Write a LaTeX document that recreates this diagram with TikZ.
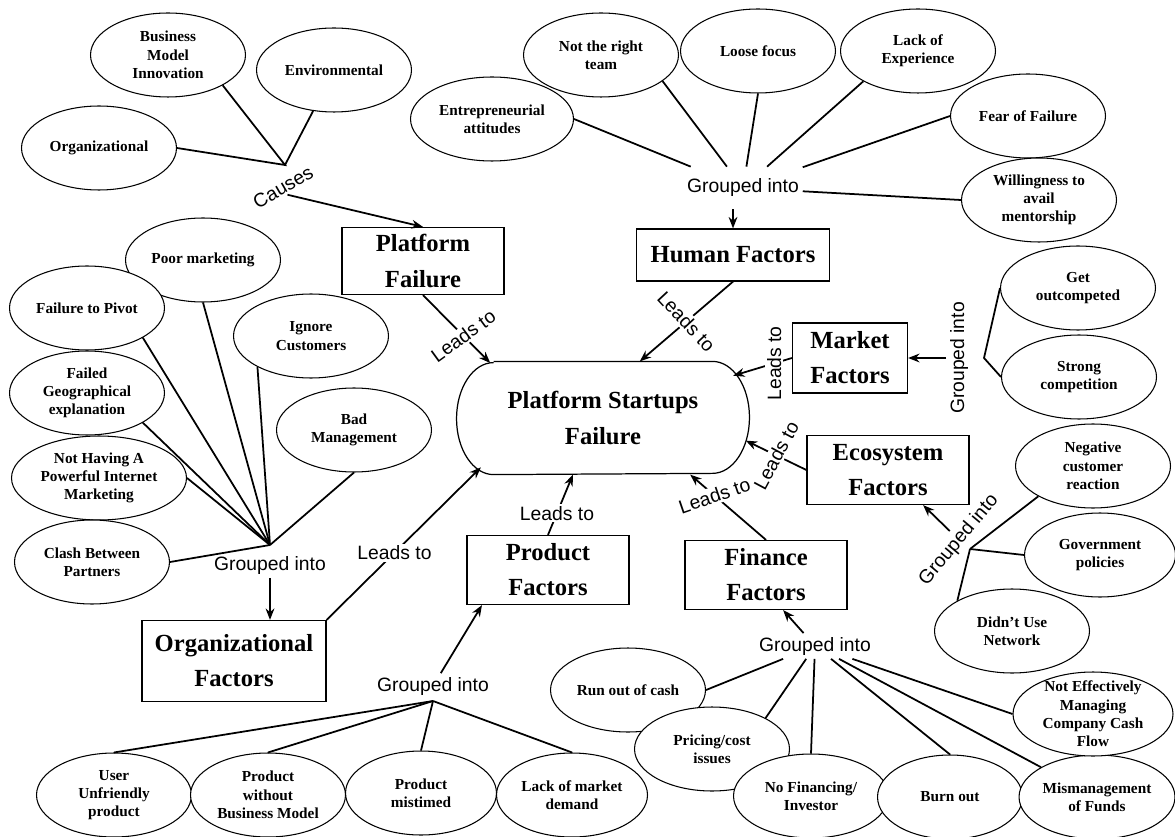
\documentclass[tikz,border=0pt]{standalone}
\usepackage{fontspec}
\setmainfont{Liberation Serif}
\setsansfont{Liberation Sans}
\usetikzlibrary{arrows.meta,shapes.geometric,shapes.misc}

\begin{document}
\begin{tikzpicture}[>={Stealth[length=6.5pt,width=5pt]}, x=0.02cm, y=-0.02cm,
    cause/.style={draw, ellipse, fill=white, line width=0.6pt, inner sep=0pt, align=center,
      minimum width=3.1cm, minimum height=1.68cm,
      font=\bfseries\fontsize{8.7}{10.4}\selectfont},
    factor/.style={draw, rectangle, line width=0.7pt, inner sep=0pt, align=center,
      font=\bfseries\fontsize{14}{20}\selectfont},
    grp/.style={font=\sffamily\fontsize{11}{13}\selectfont, inner sep=2pt},
    lbl/.style={grp, fill=white, inner sep=1pt},
    link/.style={line width=1pt},
    lead/.style={link, ->}]
  \useasboundingbox (0,0) rectangle (1175,837);
  \clip (0,0) rectangle (1175,837);

  % what causes platform failure
  \node[cause] (bmi) at (168,55) {Business\\Model\\Innovation};
  \node[cause] (env) at (334,70) {Environmental};
  \node[cause] (orgn) at (99,148) {Organizational};
  \coordinate (cj) at (285,165);
  \draw[link] (orgn.east) -- (cj) -- (bmi.-29);
  \draw[link] (cj) -- (env.-117);
  \node[lbl, rotate=30] (cs) at (283,187) {Causes};
  \node[factor, minimum width=3.24cm, minimum height=1.34cm] (pf) at (423,261) {Platform\\Failure};
  \draw[lead] (cs.south) -- (pf.north);

  % the centre
  \node[factor, draw=none, rounded rectangle, rounded rectangle arc length=135,
    minimum width=5.86cm, minimum height=2.24cm] (psf) at (603,418) {Platform Startups\\Failure};
  \draw[line width=0.7pt] ([xshift=-2.19cm]psf.north) -- ([xshift=2.19cm]psf.north)
    arc[start angle=90, end angle=-90, x radius=0.74cm, y radius=1.12cm]
    -- ([xshift=-2.19cm]psf.south)
    arc[start angle=-90, end angle=-270, x radius=0.74cm, y radius=1.12cm];
  \draw[lead] (pf.south) -- node[lbl, rotate=36, pos=0.6] {Leads to} (psf.154);

  % human factors
  \node[cause, minimum width=3.26cm] (ent) at (492,119) {Entrepreneurial\\attitudes};
  \node[cause] (nrt) at (601,55) {Not the right\\team};
  \node[cause] (lf) at (758,51) {Loose focus};
  \node[cause] (loe) at (918,51) {Lack of\\Experience};
  \node[cause] (fof) at (1028,116) {Fear of Failure};
  \node[cause] (wam) at (1039,200) {Willingness to\\avail\\mentorship};
  \node[grp, inner ysep=0.24cm] (hgi) at (743,188) {Grouped into};
  \foreach \e/\a in {ent/east, nrt/-23, lf/south, loe/-151, fof/west, wam/west}
    \draw[link] (hgi) -- (\e.\a);
  \node[factor, minimum width=3.86cm, minimum height=1.04cm] (hf) at (733,255) {Human Factors};
  \draw[lead] (hf.north |- hgi.south) -- (hf.north);
  \draw[lead] (hf.south) -- node[lbl, rotate=-47] {Leads to} (psf.57);

  % market factors
  \node[factor, minimum width=2.3cm, minimum height=1.4cm] (mf) at (850,358) {Market\\Factors};
  \draw[lead] (mf.west) -- node[lbl, rotate=90, pos=0.3] {Leads to} (psf.18);
  \node[grp, rotate=90] (mgi) at (959,358) {Grouped into};
  \draw[lead] (mgi) -- (mf);
  \node[cause] (goc) at (1078,288) {Get\\outcompeted};
  \node[cause] (sc) at (1079,377) {Strong\\competition};
  \coordinate (mj) at (984,358);
  \draw[link] (goc.west) -- (mj) -- (sc.west);

  % ecosystem factors
  \node[factor, minimum width=3.24cm, minimum height=1.38cm] (eco) at (888,470) {Ecosystem\\Factors};
  \draw[lead] (eco.west) -- node[lbl, rotate=62] {Leads to} (psf.-9);
  \node[grp, rotate=50] (egi) at (959,540) {Grouped into};
  \draw[lead] (egi) -- (eco.-45);
  \node[cause] (ncr) at (1093,466) {Negative\\customer\\reaction};
  \node[cause, minimum width=3.02cm] (gov) at (1100,555) {Government\\policies};
  \node[cause] (dun) at (1012,631) {Didn't Use\\Network};
  \coordinate (ej) at (970,549);
  \foreach \e/\a in {ncr/-151, gov/west, dun/151}
    \draw[link] (ej) -- (\e.\a);

  % finance factors
  \node[factor, minimum width=3.24cm, minimum height=1.38cm] (fin) at (766,575) {Finance\\Factors};
  \draw[lead] (fin.north) -- node[lbl, rotate=19, pos=0.68] {Leads to} (psf.-33);
  \node[grp] (fgi) at (815,646) {Grouped into};
  \draw[lead] (fgi) -- (fin.-64);
  \node[cause] (roc) at (628,690) {Run out of cash};
  \node[cause] (pci) at (712,749) {Pricing/cost\\issues};
  \node[cause] (nfi) at (811,796) {No Financing/\\Investor};
  \node[cause, minimum width=2.9cm] (bo) at (950,797) {Burn out};
  \node[cause, minimum width=3.12cm] (mof) at (1097,797) {Mismanagement\\of Funds};
  \node[cause, minimum width=3.2cm, inner ysep=-4pt] (nem) at (1093,714) {Not Effectively\\Managing\\Company Cash\\Flow};
  \foreach \e/\a in {roc/east, pci/30, nfi/north, bo/north, mof/152, nem/west}
    \draw[link] (fgi) -- (\e.\a);

  % product factors
  \node[factor, minimum width=3.24cm, minimum height=1.38cm] (prod) at (548,570) {Product\\Factors};
  \draw[lead] (prod.north) -- node[lbl, pos=0.36] {Leads to} (psf.-118);
  \node[grp] (pgi) at (433,686) {Grouped into};
  \draw[lead] (pgi) -- (prod.-152);
  \node[cause] (uup) at (114,795) {User\\Unfriendly\\product};
  \node[cause] (pwb) at (268,795) {Product\\without\\Business Model};
  \node[cause, minimum width=3.02cm] (pmt) at (421,793) {Product\\mistimed};
  \node[cause, minimum width=3.02cm] (lmd) at (572,795) {Lack of market\\demand};
  \coordinate (pj) at (433,701);
  \foreach \e in {uup, pwb, pmt, lmd}
    \draw[link] (pj) -- (\e.north);

  % organizational factors
  \node[cause] (poor) at (203,260) {Poor marketing};
  \node[cause] (piv) at (87,308) {Failure to Pivot};
  \node[cause] (ign) at (311,336) {Ignore\\Customers};
  \node[cause] (geo) at (87,393) {Failed\\Geographical\\explanation};
  \node[cause] (bad) at (354,430) {Bad\\Management};
  \node[cause, minimum width=3.5cm] (nhp) at (99,478) {Not Having A\\Powerful Internet\\Marketing};
  \node[cause] (cbp) at (92,562) {Clash Between\\Partners};
  \coordinate (oj) at (270,545);
  \foreach \e/\a in {poor/south, piv/-28, ign/-150, geo/-28, bad/south, nhp/east, cbp/east}
    \draw[link] (oj) -- (\e.\a);
  \node[grp] (ogi) at (270,565) {Grouped into};
  \node[factor, minimum width=3.68cm, minimum height=1.62cm] (org) at (234,661) {Organizational\\Factors};
  \draw[lead] (ogi.south) -- (ogi.south |- org.north);
  \draw[lead] (org.north east) -- node[lbl, pos=0.44] {Leads to} (psf.-158);
\end{tikzpicture}
\end{document}
